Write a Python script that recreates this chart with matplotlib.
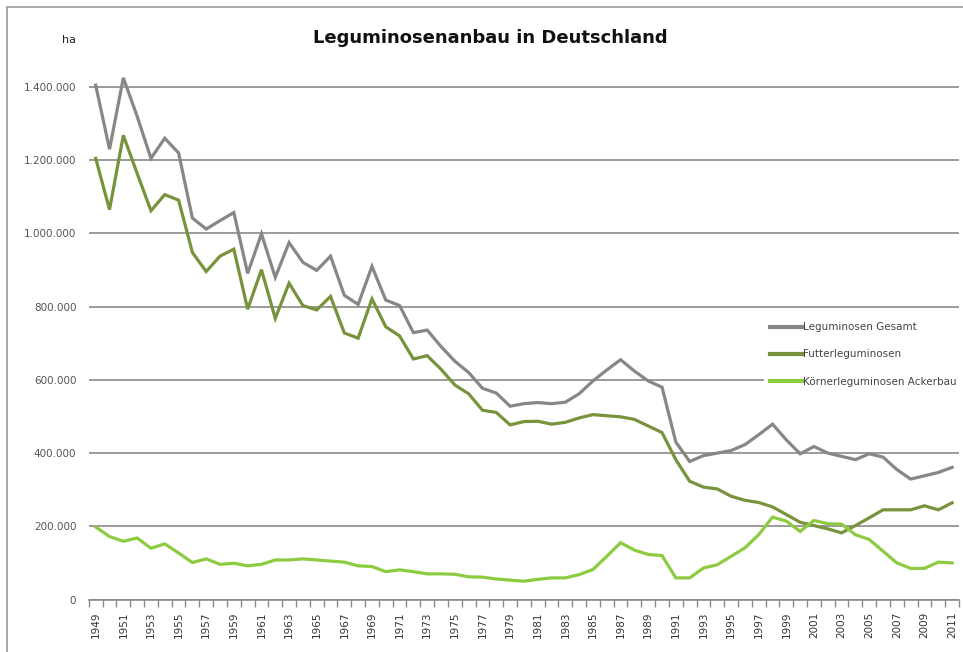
import numpy as np
import matplotlib
matplotlib.use("Agg")
import matplotlib.pyplot as plt
from matplotlib.patches import Rectangle

years = list(range(1949, 2012))

gesamt = [1405000, 1230000, 1425000, 1320000, 1205000, 1260000, 1220000, 1042000, 1012000, 1035000,
          1057000, 891000, 999000, 880000, 975000, 921000, 899000, 938000, 831000, 806000,
          910000, 818000, 803000, 729000, 736000, 691000, 651000, 620000, 577000, 564000,
          528000, 535000, 538000, 535000, 539000, 562000, 597000, 627000, 655000, 624000,
          597000, 580000, 430000, 377000, 393000, 400000, 407000, 423000, 450000, 479000,
          436000, 398000, 418000, 400000, 391000, 382000, 398000, 389000, 355000, 329000,
          338000, 347000, 361000]

futter = [1205000, 1065000, 1268000, 1164000, 1062000, 1106000, 1091000, 948000, 896000, 938000,
          957000, 793000, 901000, 768000, 864000, 803000, 791000, 828000, 728000, 714000,
          821000, 745000, 720000, 657000, 666000, 629000, 586000, 562000, 517000, 511000,
          477000, 486000, 487000, 479000, 484000, 496000, 505000, 502000, 499000, 492000,
          474000, 456000, 382000, 323000, 307000, 302000, 282000, 271000, 265000, 253000,
          232000, 211000, 202000, 193000, 182000, 202000, 223000, 245000, 245000, 245000,
          256000, 245000, 264000]

koerner = [198000, 172000, 159000, 168000, 140000, 152000, 127000, 101000, 111000, 96000,
           99000, 92000, 96000, 108000, 108000, 111000, 108000, 105000, 102000, 92000,
           90000, 76000, 81000, 76000, 70000, 70000, 69000, 62000, 61000, 56000,
           53000, 50000, 55000, 59000, 59000, 68000, 82000, 118000, 155000, 135000,
           123000, 120000, 59000, 59000, 86000, 95000, 118000, 141000, 177000, 225000,
           214000, 186000, 216000, 207000, 206000, 177000, 164000, 132000, 100000, 85000,
           85000, 102000, 100000]

series_names = ["Leguminosen Gesamt", "Futterleguminosen", "Körnerleguminosen Ackerbau"]
colors = ["#878787", "#77933C", "#8DCB41"]

W, H = 963, 652
fig = plt.figure(figsize=(W / 100, H / 100), dpi=100)

# chart border
fig.patches.append(Rectangle((7 / W, -0.05), 1.1, 1 - 7 / H + 0.05, transform=fig.transFigure,
                             fill=False, edgecolor="#9a9a9a", linewidth=1.2))

left, right = 88.8, 959.0
bottom_px, top_px = 599.5, 50.4
ax = fig.add_axes([left / W, 1 - bottom_px / H, (right - left) / W, (bottom_px - top_px) / H])

x = np.arange(len(years))
for vals, name, c in zip([gesamt, futter, koerner], series_names, colors):
    ax.plot(x, vals, color=c, linewidth=2.3, label=name, solid_joinstyle="miter")

ax.set_xlim(-0.5, len(years) - 0.5)
ax.set_ylim(0, 1500000)
ax.set_yticks(np.arange(0, 1400001, 200000))
ax.yaxis.set_major_formatter(lambda v, p: f"{v:,.0f}".replace(",", "."))
ax.grid(axis="y", color="#8a8a8a", linewidth=1.2)
ax.set_axisbelow(True)

ax.set_xticks(x[::2])
ax.set_xticklabels([str(y) for y in years[::2]], rotation=90, fontsize=7.5, color="#333333")
ax.set_xticks(np.arange(-0.5, len(years), 1), minor=True)
ax.tick_params(axis="x", which="major", length=0, pad=9)
ax.tick_params(axis="x", which="minor", length=5, color="#8a8a8a", width=1)
ax.tick_params(axis="y", length=0, pad=9, labelsize=7.5, labelcolor="#555555")

for s in ["top", "right", "left"]:
    ax.spines[s].set_visible(False)
ax.spines["bottom"].set_color("#8a8a8a")
ax.spines["bottom"].set_linewidth(1.2)

fig.text(490 / W, 1 - 38 / H, "Leguminosenanbau in Deutschland", ha="center", va="center",
         fontsize=13, fontweight="bold", color="#111111")
fig.text(69 / W, 1 - 40 / H, "ha", ha="center", va="center", fontsize=8, color="#222222")

leg = fig.legend(loc="upper left", bbox_to_anchor=(764 / W, 1 - 316 / H), fontsize=7.5,
                 frameon=True, facecolor="white", edgecolor="none", framealpha=1,
                 handlelength=3.0, handletextpad=0.1, labelspacing=1.65, borderpad=0.6,
                 borderaxespad=0)
for t in leg.get_texts():
    t.set_color("#444444")
for l in leg.get_lines():
    l.set_linewidth(3)

fig.savefig("out.png", dpi=100)
